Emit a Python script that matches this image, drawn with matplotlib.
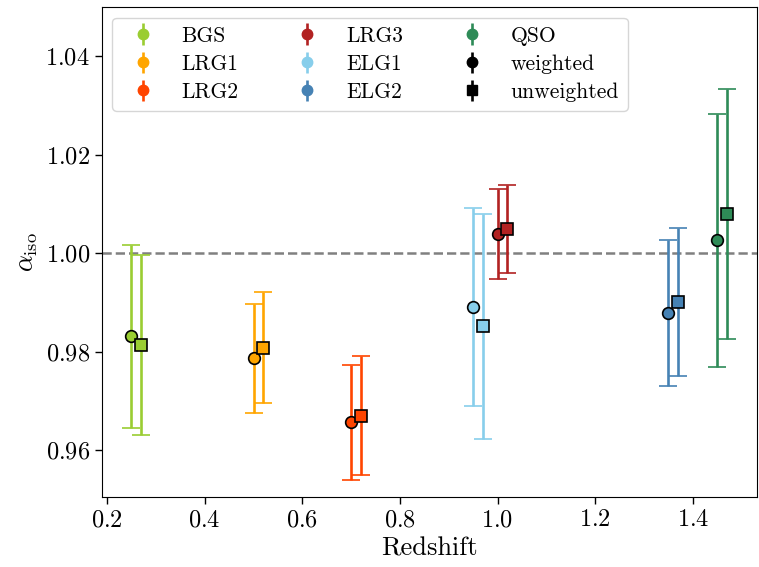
import matplotlib
matplotlib.use("Agg")
import matplotlib.pyplot as plt
import numpy as np

plt.rcParams["font.family"] = "serif"
plt.rcParams["font.serif"] = ["cmr10"]
plt.rcParams["mathtext.fontset"] = "cm"
plt.rcParams["axes.formatter.use_mathtext"] = True

# tracers and their effective redshifts
tracers = ["BGS", "LRG1", "LRG2", "LRG3", "ELG1", "ELG2", "QSO"]
colors = ["yellowgreen", "orange", "orangered", "firebrick", "skyblue", "steelblue", "seagreen"]
z_eff = [0.25, 0.50, 0.70, 1.00, 0.95, 1.35, 1.45]
dz = 0.02  # shift of the unweighted points

# alpha_iso fits with 1-sigma errors
alpha_w = [0.9831, 0.9786, 0.9656, 1.0039, 0.9891, 0.9878, 1.0026]
err_w = [0.0186, 0.0111, 0.0117, 0.0091, 0.0201, 0.0148, 0.0257]
alpha_u = [0.9813, 0.9808, 0.9670, 1.0049, 0.9851, 0.9901, 1.0079]
err_u = [0.0183, 0.0112, 0.0120, 0.0089, 0.0228, 0.0150, 0.0254]

fig = plt.figure(figsize=(7.59, 5.67), dpi=100)
ax = fig.add_axes([0.134, 0.123, 0.863, 0.865])

ax.axhline(1.0, color="gray", ls="--", lw=1.8, zorder=1)

for i in range(len(tracers)):
    c = colors[i]
    ax.errorbar(z_eff[i], alpha_w[i], yerr=err_w[i], fmt="o", color=c,
                ms=8.4, mec="k", mew=1.2, elinewidth=1.9, capsize=6.5,
                capthick=1.9, zorder=3)
    ax.errorbar(z_eff[i] + dz, alpha_u[i], yerr=err_u[i], fmt="s", color=c,
                ms=8.0, mec="k", mew=1.2, elinewidth=1.9, capsize=6.5,
                capthick=1.9, zorder=4)

# legend entries
handles = []
for name, c in zip(tracers, colors):
    handles.append(ax.errorbar([], [], yerr=[], fmt="o", color=c, ms=7.5,
                               elinewidth=1.9, label=name))
handles.append(ax.errorbar([], [], yerr=[], fmt="o", color="k", ms=7.5,
                           elinewidth=1.9, label="weighted"))
handles.append(ax.errorbar([], [], yerr=[], fmt="s", color="k", ms=7.5,
                           elinewidth=1.9, label="unweighted"))

ax.legend(handles=handles, loc="upper left", ncol=3, fontsize=15.5,
          handletextpad=0.8, columnspacing=2.2, labelspacing=0.4)

ax.set_xlabel("Redshift", fontsize=19)
ax.set_ylabel(r"$\alpha_{\rm iso}$", fontsize=19)
ax.set_xticks([0.2, 0.4, 0.6, 0.8, 1.0, 1.2, 1.4])
ax.set_yticks([0.96, 0.98, 1.00, 1.02, 1.04])
ax.set_ylim(0.9504, 1.050)
ax.tick_params(labelsize=17.5, length=5, width=1)

fig.savefig("out.png", dpi=100)
